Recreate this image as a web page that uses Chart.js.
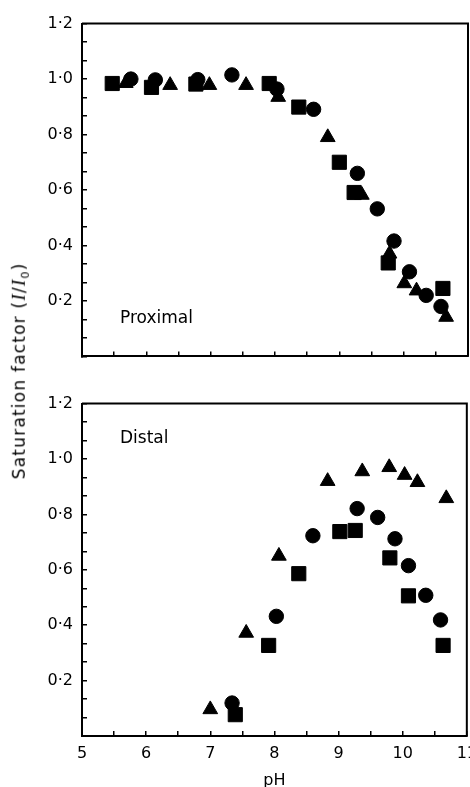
<!DOCTYPE html>
<html><head><meta charset="utf-8">
<script src="https://cdn.jsdelivr.net/npm/chart.js@4"></script>
<style>
html,body{margin:0;padding:0;background:#fff;overflow:hidden;width:470px;height:787px;}
#wrap{position:relative;width:470px;height:787px;overflow:hidden;}
canvas{position:absolute;left:0;}
#c1{top:0;}
#c2{top:380px;}
.lbl{position:absolute;font-family:"DejaVu Sans";color:#000;white-space:nowrap;line-height:1;}
#ytitle{left:20px;top:371px;transform:translate(-50%,-50%) rotate(-90deg);font-size:17px;letter-spacing:1.2px;}
#ytitle i{font-family:"Liberation Serif";font-size:19px;}
#ytitle sub{font-size:11px;}
#prox{left:120px;top:309px;font-size:17px;}
#dist{left:120px;top:429px;font-size:17px;}
</style></head>
<body><div id="wrap">
<canvas id="c1" width="490" height="380"></canvas>
<canvas id="c2" width="490" height="407"></canvas>
<div id="ytitle" class="lbl">Saturation factor (<i>I</i>/<i>I</i><sub>0</sub>)</div>
<div id="prox" class="lbl">Proximal</div>
<div id="dist" class="lbl">Distal</div>
</div>
<script>
// ---- Data ----
const xTickLabels = ['5','6','7','8','9','10','11'];
const yTickLabels = ['0·2','0·4','0·6','0·8','1·0','1·2'];

// Proximal panel
const proxSquarePH   = [5.47, 6.08, 6.77, 7.91, 8.37, 9.00, 9.23, 9.76, 10.61];
const proxSquareSat  = [0.984, 0.970, 0.982, 0.984, 0.899, 0.700, 0.591, 0.337, 0.245];
const proxCirclePH   = [5.76, 6.14, 6.80, 7.33, 8.03, 8.60, 9.28, 9.59, 9.85, 10.09, 10.35, 10.58];
const proxCircleSat  = [1.000, 0.997, 0.998, 1.015, 0.964, 0.891, 0.660, 0.532, 0.416, 0.305, 0.220, 0.180];
const proxTrianglePH = [5.68, 6.37, 6.98, 7.55, 8.05, 8.82, 9.35, 9.78, 10.01, 10.20, 10.66];
const proxTriangleSat= [0.985, 0.978, 0.978, 0.978, 0.935, 0.790, 0.582, 0.370, 0.263, 0.237, 0.142];

// Distal panel
const distSquarePH   = [7.39, 7.91, 8.38, 9.02, 9.26, 9.80, 10.09, 10.63];
const distSquareSat  = [0.077, 0.327, 0.586, 0.738, 0.742, 0.643, 0.506, 0.327];
const distCirclePH   = [7.34, 8.03, 8.60, 9.29, 9.61, 9.88, 10.09, 10.36, 10.59];
const distCircleSat  = [0.119, 0.432, 0.723, 0.821, 0.789, 0.712, 0.615, 0.508, 0.419];
const distTrianglePH = [7.00, 7.56, 8.07, 8.83, 9.37, 9.79, 10.03, 10.23, 10.68];
const distTriangleSat= [0.096, 0.372, 0.650, 0.920, 0.955, 0.970, 0.942, 0.916, 0.858];

// ---- helpers ----
const pts = (xs, ys) => xs.map((x, i) => ({x, y: ys[i]}));
const yTickValues = Array.from({length: 19}, (_, k) => k * 0.2 / 3);

const framePlugin = {
  id: 'frame',
  beforeDatasetsDraw(chart) {
    const {ctx, chartArea: {left, top, right, bottom}} = chart;
    ctx.save();
    ctx.strokeStyle = '#000';
    ctx.lineWidth = 2;
    ctx.beginPath();
    ctx.moveTo(left, top); ctx.lineTo(right, top); ctx.lineTo(right, bottom);
    ctx.stroke();
    ctx.restore();
  }
};

function datasets(sqx, sqy, cix, ciy, trx, try_) {
  const base = {backgroundColor: '#000', borderColor: '#000', borderWidth: 1, showLine: false, clip: false};
  return [
    Object.assign({label: 'square', data: pts(sqx, sqy), pointStyle: 'rect', pointRadius: 10}, base),
    Object.assign({label: 'triangle', data: pts(trx, try_), pointStyle: 'triangle', pointRadius: 8.5}, base),
    Object.assign({label: 'circle', data: pts(cix, ciy), pointStyle: 'circle', pointRadius: 7.2}, base)
  ];
}

function makeOptions(showX, xHeight, padTop) {
  return {
    responsive: false, animation: false, devicePixelRatio: 1,
    layout: {padding: {top: padTop, right: 22, left: 0, bottom: 0}},
    plugins: {legend: {display: false}, tooltip: {enabled: false}},
    scales: {
      x: {
        type: 'linear', min: 5, max: 11,
        afterFit(s) { s.height = xHeight; },
        border: {display: true, color: '#000', width: 2},
        grid: {drawOnChartArea: false, drawTicks: true, tickLength: -5, color: '#000', lineWidth: 1.5},
        ticks: {
          display: showX, stepSize: 0.5, padding: 13, color: '#000', maxRotation: 0, autoSkip: false,
          font: {family: 'DejaVu Sans', size: 16},
          callback: v => Math.abs(v - Math.round(v)) < 1e-6 ? xTickLabels[Math.round(v) - 5] : ''
        },
        title: {display: showX, text: 'pH', color: '#000', font: {family: 'DejaVu Sans', size: 16, lineHeight: 0.8}, padding: {top: 0, bottom: 0}}
      },
      y: {
        type: 'linear', min: 0, max: 1.2,
        afterFit(s) { s.width = 82; },
        afterBuildTicks(s) { s.ticks = yTickValues.map(v => ({value: v})); },
        border: {display: true, color: '#000', width: 2},
        grid: {drawOnChartArea: false, drawTicks: true, tickLength: -5, color: '#000', lineWidth: 1.5},
        ticks: {
          padding: 14, color: '#000', autoSkip: false,
          font: {family: 'DejaVu Sans', size: 16},
          callback: (v, i) => (i > 0 && i % 3 === 0) ? yTickLabels[i / 3 - 1] : ''
        }
      }
    }
  };
}

new Chart(document.getElementById('c1'), {
  type: 'scatter',
  data: {datasets: datasets(proxSquarePH, proxSquareSat, proxCirclePH, proxCircleSat, proxTrianglePH, proxTriangleSat)},
  options: makeOptions(false, 21, 21),
  plugins: [framePlugin]
});

new Chart(document.getElementById('c2'), {
  type: 'scatter',
  data: {datasets: datasets(distSquarePH, distSquareSat, distCirclePH, distCircleSat, distTrianglePH, distTriangleSat)},
  options: makeOptions(true, 51, 20),
  plugins: [framePlugin]
});
</script>
</body></html>
